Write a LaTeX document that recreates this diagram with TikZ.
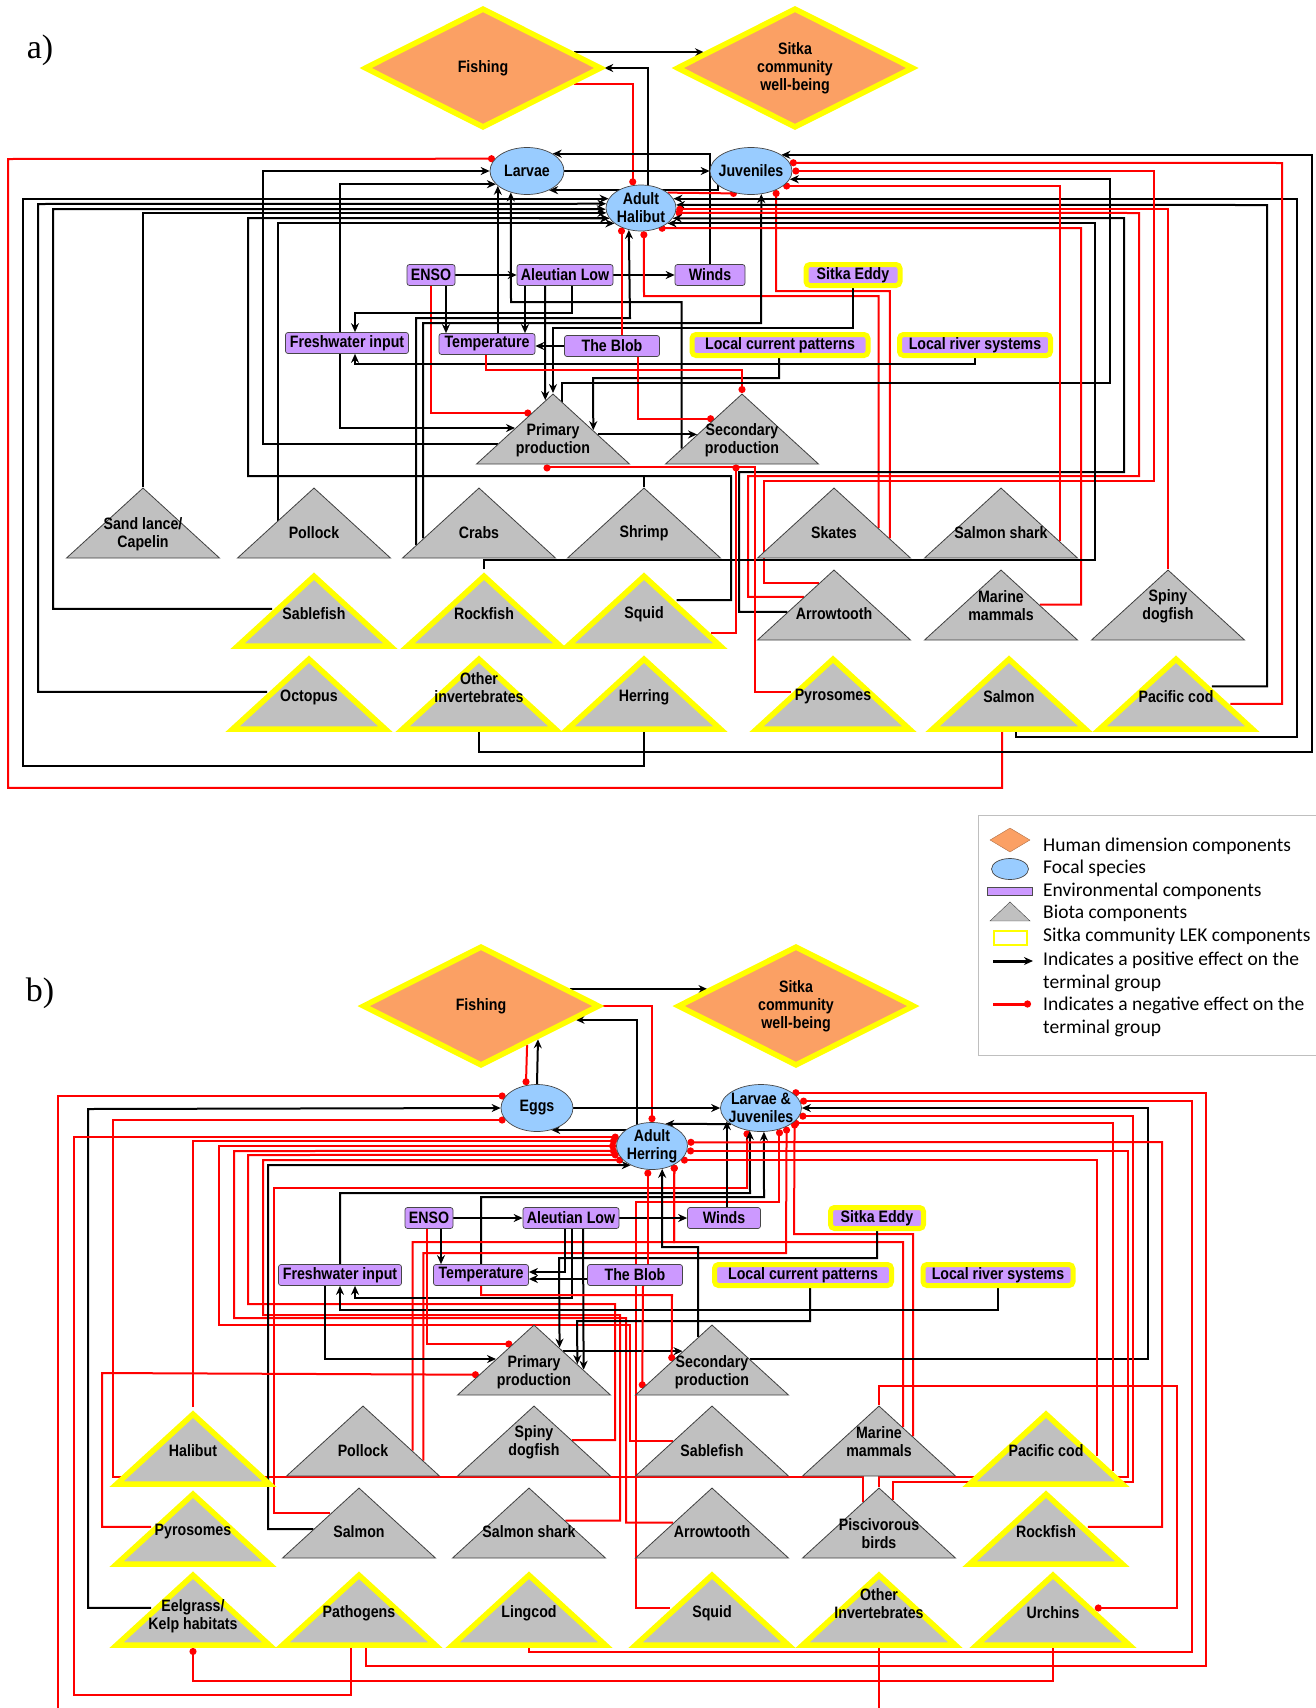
\documentclass[tikz,border=0pt]{standalone}
\usepackage{fontspec}
\newfontfamily\lblfont[FakeStretch=0.86]{Liberation Sans}
\newfontfamily\legfont{Carlito}
\newfontfamily\serfont{Liberation Serif}
\usetikzlibrary{shapes.geometric,arrows.meta,calc}
\definecolor{hum}{RGB}{251,160,100}
\definecolor{lek}{RGB}{255,255,0}
\definecolor{foc}{RGB}{153,204,255}
\definecolor{env}{RGB}{204,153,255}
\definecolor{bio}{RGB}{192,192,192}
\pgfdeclarelayer{bg}
\pgfsetlayers{bg,main}
\tikzset{
  txt/.style={font=\lblfont\bfseries\fontsize{16.5pt}{18pt}\selectfont, align=center, inner sep=0pt},
  legtxt/.style={font=\legfont\fontsize{19.5pt}{22pt}\selectfont, anchor=west, inner sep=0pt},
  human/.style={diamond, aspect=2, minimum width=237pt, minimum height=120pt, inner sep=0pt, fill=hum, draw=lek, line width=5.5pt, txt},
  focal/.style={ellipse, fill=foc, draw=gray!55!black, line width=0.7pt, inner sep=0pt},
  envr/.style={rectangle, rounded corners=2.5pt, fill=env, draw=gray!55!black, line width=0.7pt, minimum height=21pt, inner sep=0pt, txt},
  lekenv/.style={envr, draw=lek, line width=5pt, rounded corners=4pt},
  biota/.style={isosceles triangle, isosceles triangle stretches, shape border rotate=90, minimum width=153pt, minimum height=70pt, inner sep=0pt, anchor=apex, fill=bio, draw=gray!50!black, line width=0.8pt},
  lekbiota/.style={biota, draw=lek, line width=5.5pt},
  poseff/.style={draw=black, line width=2pt, -{Stealth[length=9pt,width=8pt]}},
  negeff/.style={draw=red, line width=2pt, -{Circle[length=7pt]}},
}
\begin{document}
\begin{tikzpicture}[x=1pt, y=-1pt]
\useasboundingbox (0,0) rectangle (1315,1708);

\node[font=\serfont\fontsize{34pt}{34pt}\selectfont] (LA) at (40,50) {a)};
\node[human] (FISH1) at (483,68) {Fishing};
\node[human] (SITKA1) at (795,68) {Sitka\\community\\well-being};
\node[focal, minimum width=74pt, minimum height=47pt] (LARV1) at (527,171) {};
\node[txt] (LARV1t) at (LARV1) {Larvae};
\node[focal, minimum width=82pt, minimum height=47pt] (JUV1) at (751,171) {};
\node[txt] (JUV1t) at (JUV1) {Juveniles};
\node[focal, minimum width=70pt, minimum height=46pt] (AH1) at (641,208) {};
\node[txt] (AH1t) at (AH1) {Adult\\Halibut};

\node[envr, minimum width=48pt] (ENSO1) at (431,275) {ENSO};
\node[envr, minimum width=96pt] (AL1) at (565,275) {Aleutian Low};
\node[envr, minimum width=70pt] (WIND1) at (710,275) {Winds};
\node[lekenv, minimum width=94pt] (EDDY1) at (853,275) {Sitka Eddy};
\node[envr, minimum width=123pt] (FW1) at (347,343) {Freshwater input};
\node[envr, minimum width=96pt] (TEMP1) at (487,344) {Temperature};
\node[envr, minimum width=95pt] (BLOB1) at (612,346) {The Blob};
\node[lekenv, minimum width=176pt] (LCP1) at (780,345) {Local current patterns};
\node[lekenv, minimum width=151pt] (LRS1) at (975,345) {Local river systems};

\node[biota] (PP1) at (553,393) {};
\node[txt] (PP1t) at ($(PP1.apex)+(0,47)$) {Primary\\production};
\node[biota] (SP1) at (742,393) {};
\node[txt] (SP1t) at ($(SP1.apex)+(0,47)$) {Secondary\\production};

\node[biota] (SAND1) at (143,487) {};
\node[txt] (SAND1t) at ($(SAND1.apex)+(0,47)$) {Sand lance/\\Capelin};
\node[biota] (POLL1) at (314,487) {};
\node[txt] (POLL1t) at ($(POLL1.apex)+(0,46)$) {Pollock};
\node[biota] (CRAB1) at (479,487) {};
\node[txt] (CRAB1t) at ($(CRAB1.apex)+(0,46)$) {Crabs};
\node[biota] (SHRM1) at (644,487) {};
\node[txt] (SHRM1t) at ($(SHRM1.apex)+(0,46)$) {Shrimp};
\node[biota] (SKAT1) at (834,487) {};
\node[txt] (SKAT1t) at ($(SKAT1.apex)+(0,46)$) {Skates};
\node[biota] (SSHK1) at (1001,487) {};
\node[txt] (SSHK1t) at ($(SSHK1.apex)+(0,46)$) {Salmon shark};

\node[lekbiota] (SABL1) at (314,569) {};
\node[txt] (SABL1t) at ($(SABL1.apex)+(0,45)$) {Sablefish};
\node[lekbiota] (ROCK1) at (484,569) {};
\node[txt] (ROCK1t) at ($(ROCK1.apex)+(0,45)$) {Rockfish};
\node[lekbiota] (SQID1) at (644,569) {};
\node[txt] (SQID1t) at ($(SQID1.apex)+(0,45)$) {Squid};
\node[biota] (ARRW1) at (834,569) {};
\node[txt] (ARRW1t) at ($(ARRW1.apex)+(0,45)$) {Arrowtooth};
\node[biota] (MM1) at (1001,569) {};
\node[txt] (MM1t) at ($(MM1.apex)+(0,37)$) {Marine\\mammals};
\node[biota] (DOG1) at (1168,569) {};
\node[txt] (DOG1t) at ($(DOG1.apex)+(0,37)$) {Spiny\\dogfish};

\node[lekbiota] (OCTO1) at (309,652) {};
\node[txt] (OCTO1t) at ($(OCTO1.apex)+(0,45)$) {Octopus};
\node[lekbiota] (OI1) at (479,652) {};
\node[txt] (OI1t) at ($(OI1.apex)+(0,36)$) {Other\\invertebrates};
\node[lekbiota] (HERR1) at (644,652) {};
\node[txt] (HERR1t) at ($(HERR1.apex)+(0,45)$) {Herring};
\node[lekbiota] (PYRO1) at (833,652) {};
\node[txt] (PYRO1t) at ($(PYRO1.apex)+(0,45)$) {Pyrosomes};
\node[lekbiota] (SALM1) at (1009,652) {};
\node[txt] (SALM1t) at ($(SALM1.apex)+(0,45)$) {Salmon};
\node[lekbiota] (PCOD1) at (1176,652) {};
\node[txt] (PCOD1t) at ($(PCOD1.apex)+(0,45)$) {Pacific cod};

\begin{pgfonlayer}{bg}
\draw[poseff] ($(FISH1.east)!.25!(FISH1.north)$) -- ($(SITKA1.west)!.25!(SITKA1.north)$);
\draw[poseff] (AH1.73) |- (FISH1.east);
\draw[negeff] ($(FISH1.east)!.25!(FISH1.south)$) -| (AH1.110);
\draw[poseff] (LARV1.east) -- (JUV1.west);
\draw[poseff] (WIND1.north) |- (LARV1.34);
\draw[negeff] ($(SALM1.lower side)+(-7,0)$) -- ++(0,56) -| (8,159) -- (LARV1.159);
\draw[poseff] ($(PP1.apex)!.71!(PP1.left corner)$) -| (263,171) -- (LARV1.west);
\draw[poseff] (FW1.north -| 340,0) |- (LARV1.203);
\draw[poseff] (FW1.south -| 340,0) |- ($(PP1.apex)!.49!(PP1.left corner)$);
\draw[poseff] (TEMP1.north -| LARV1.207) -- (LARV1.207);
\draw[poseff] ($(SP1.apex)!.78!(SP1.left corner)$) |- (511,302) -- (LARV1.233);
\draw[poseff] (ENSO1.east) -- (AL1.west);
\draw[poseff] (ENSO1.south -| 446,0) -- (TEMP1.north -| 446,0);
\draw[negeff] (ENSO1.south -| 431,0) |- ($(PP1.apex)!.28!(PP1.left corner)$);
\draw[poseff] (AL1.south -| 525,0) -- (TEMP1.north -| 525,0);
\draw[poseff] (AL1.south -| 545,0) -- ($(PP1.apex)!.1!(PP1.left corner)$);
\draw[poseff] (AL1.south -| 572,0) |- (355,313) -- (FW1.north -| 355,0);
\draw[poseff] (AL1.east) -- (WIND1.west);
\draw[negeff] ($(SKAT1.apex)!.575!(SKAT1.right corner)$) |- (644,296) -- (AH1.277);
\draw[negeff] ($(SKAT1.apex)!.72!(SKAT1.right corner)$) |- (776,291) -- (JUV1.323);
\draw[poseff] ($(CRAB1.apex)!.81!(CRAB1.left corner)$) |- (630,318) -- (AH1.241);
\draw[poseff] ($(CRAB1.apex)!.72!(CRAB1.left corner)$) |- (761,323) -- (JUV1.294);
\draw[poseff] (EDDY1.south) |- (553,328) -- (PP1.apex);
\draw[poseff] (LCP1.south -| 779,0) |- (593,378) -- ($(PP1.apex)!.52!(PP1.right corner)$);
\draw[poseff] (LRS1.south) |- (355,364) -- (FW1.south -| 355,0);
\draw[poseff] (BLOB1.west) -- (TEMP1.east |- BLOB1.west);
\draw[negeff] (BLOB1.north -| AH1.225) -- (AH1.225);
\draw[negeff] (BLOB1.south -| 638,0) |- ($(SP1.apex)!.36!(SP1.left corner)$);
\draw[negeff] (TEMP1.south -| 486,0) |- (742,370) -- (SP1.apex);
\draw[poseff] ($(PP1.apex)!.58!(PP1.right corner)$) -- ($(SP1.apex)!.58!(SP1.left corner)$);
\draw[poseff] ($(PP1.apex)!.12!(PP1.right corner)$) |- (1110,383) |- (JUV1.348);
\draw[poseff] (OI1.south) |- (1312,752) |- (JUV1.28);
\draw[poseff] (HERR1.south) |- (23,766) |- (AH1.164);
\draw[poseff] ($(SALM1.lower side)+(7,0)$) |- (1297,737) |- (AH1.16);
\draw[poseff] ($(PCOD1.apex)!.43!(PCOD1.right corner)$) -| (1267,205) -- (AH1.5);
\draw[negeff] ($(PCOD1.apex)!.65!(PCOD1.right corner)$) -| (1282,163) -- (JUV1.12);
\draw[negeff] ($(ARRW1.apex)!.2!(ARRW1.left corner)$) -| (764,481) -| (1154,171) -- (JUV1.east);
\draw[negeff] ($(ARRW1.apex)!.39!(ARRW1.left corner)$) -| (748,476) -| (1139,213) -- (AH1.352);
\draw[poseff] ($(ARRW1.apex)!.6!(ARRW1.left corner)$) -| (739,472) -| (1124,218) -- (AH1.342);
\draw[negeff] (MM1.right side) -| (1081,228) -- (AH1.311);
\draw[poseff] (ROCK1.apex) |- (1095,560) |- (AH1.330);
\draw[negeff] (DOG1.apex) |- (AH1.358);
\draw[negeff] ($(SSHK1.apex)!.76!(SSHK1.right corner)$) |- (JUV1.335);
\draw[negeff] (AH1.30) -- (JUV1.238);
\draw[poseff] (JUV1.203) |- (LARV1.319);
\draw[poseff] ($(SQID1.apex)!.39!(SQID1.right corner)$) -| (731,476) -| (248,218) -- (AH1.198);
\draw[poseff] (SHRM1.apex) |- (248,476) |- (AH1.198);
\draw[poseff] ($(POLL1.apex)!.47!(POLL1.left corner)$) |- (AH1.210);
\draw[poseff] (SAND1.apex) |- (AH1.188);
\draw[poseff] (SABL1.left side) -| (53,209) -- (AH1.182);
\draw[poseff] (OCTO1.left side) -| (38,204) -- (AH1.173);
\draw[negeff] (PYRO1.left side) -| (755,467) -| ($(PP1.lower side)+(-6,0)$);
\draw[negeff] ($(SQID1.apex)!.8!(SQID1.right corner)$) -| ($(SP1.lower side)+(-6,0)$);
\end{pgfonlayer}

\node[draw=gray!50, line width=0.8pt, minimum width=345pt, minimum height=240pt, anchor=north west] (LEG) at (978,815) {};
\node[diamond, aspect=1.7, minimum width=40pt, minimum height=24pt, inner sep=0pt, fill=hum, draw=hum!70!black, line width=0.4pt] (LHUM) at (1010,840) {};
\node[focal, minimum width=37pt, minimum height=21pt] (LFOC) at (1010,869) {};
\node[rectangle, fill=env, draw=gray!60!black, line width=0.4pt, minimum width=45pt, minimum height=8pt, inner sep=0pt] (LENV) at (1010,891) {};
\node[isosceles triangle, isosceles triangle stretches, shape border rotate=90, minimum width=40pt, minimum height=19pt, inner sep=0pt, fill=bio, draw=gray!50!black, line width=0.4pt] (LBIO) at (1010,913) {};
\node[rectangle, draw=lek, line width=2pt, minimum width=33pt, minimum height=14pt, inner sep=0pt] (LLEK) at (1010,938) {};
\coordinate (LP0) at (993,961);
\coordinate (LP1) at (1033,961);
\draw[poseff, line width=3pt] (LP0) -- (LP1);
\coordinate (LN0) at (993,1004);
\coordinate (LN1) at (1031,1004);
\draw[negeff, line width=3pt] (LN0) -- (LN1);
\node[legtxt] (LT1) at (1043,846) {Human dimension components};
\node[legtxt] (LT2) at (1043,868) {Focal species};
\node[legtxt] (LT3) at (1043,891) {Environmental components};
\node[legtxt] (LT4) at (1043,913) {Biota components};
\node[legtxt] (LT5) at (1043,936) {Sitka community LEK components};
\node[legtxt] (LT6) at (1043,960) {Indicates a positive effect on the};
\node[legtxt] (LT7) at (1043,983) {terminal group};
\node[legtxt] (LT8) at (1043,1005) {Indicates a negative effect on the};
\node[legtxt] (LT9) at (1043,1028) {terminal group};

\node[font=\serfont\fontsize{34pt}{34pt}\selectfont] (LB) at (40,993) {b)};
\node[human] (FISH2) at (481,1006) {Fishing};
\node[human] (SITKA2) at (796,1006) {Sitka\\community\\well-being};
\node[focal, minimum width=72pt, minimum height=47pt] (EGGS2) at (537,1108) {};
\node[txt] (EGGS2t) at (EGGS2) {Eggs};
\node[focal, minimum width=81pt, minimum height=47pt] (LJ2) at (761,1108) {};
\node[txt] (LJ2t) at (LJ2) {Larvae \&\\Juveniles};
\node[focal, minimum width=71pt, minimum height=47pt] (AH2) at (652,1146) {};
\node[txt] (AH2t) at (AH2) {Adult\\Herring};

\node[envr, minimum width=48pt] (ENSO2) at (429,1218) {ENSO};
\node[envr, minimum width=96pt] (AL2) at (571,1218) {Aleutian Low};
\node[envr, minimum width=73pt] (WIND2) at (724,1218) {Winds};
\node[lekenv, minimum width=93pt] (EDDY2) at (877,1218) {Sitka Eddy};
\node[envr, minimum width=123pt] (FW2) at (340,1275) {Freshwater input};
\node[envr, minimum width=95pt] (TEMP2) at (481,1275) {Temperature};
\node[envr, minimum width=95pt] (BLOB2) at (635,1275) {The Blob};
\node[lekenv, minimum width=177pt] (LCP2) at (803,1275) {Local current patterns};
\node[lekenv, minimum width=150pt] (LRS2) at (998,1275) {Local river systems};

\node[biota] (PP2) at (534,1324) {};
\node[txt] (PP2t) at ($(PP2.apex)+(0,48)$) {Primary\\production};
\node[biota] (SP2) at (712,1324) {};
\node[txt] (SP2t) at ($(SP2.apex)+(0,48)$) {Secondary\\production};

\node[lekbiota] (HALI2) at (193,1407) {};
\node[txt] (HALI2t) at ($(HALI2.apex)+(0,44)$) {Halibut};
\node[biota] (POLL2) at (363,1405) {};
\node[txt] (POLL2t) at ($(POLL2.apex)+(0,46)$) {Pollock};
\node[biota] (DOG2) at (534,1405) {};
\node[txt] (DOG2t) at ($(DOG2.apex)+(0,37)$) {Spiny\\dogfish};
\node[biota] (SABL2) at (712,1405) {};
\node[txt] (SABL2t) at ($(SABL2.apex)+(0,46)$) {Sablefish};
\node[biota] (MM2) at (879,1405) {};
\node[txt] (MM2t) at ($(MM2.apex)+(0,37)$) {Marine\\mammals};
\node[lekbiota] (PCOD2) at (1046,1407) {};
\node[txt] (PCOD2t) at ($(PCOD2.apex)+(0,44)$) {Pacific cod};

\node[lekbiota] (PYRO2) at (193,1487) {};
\node[txt] (PYRO2t) at ($(PYRO2.apex)+(0,45)$) {Pyrosomes};
\node[biota] (SALM2) at (359,1487) {};
\node[txt] (SALM2t) at ($(SALM2.apex)+(0,45)$) {Salmon};
\node[biota] (SSHK2) at (529,1487) {};
\node[txt] (SSHK2t) at ($(SSHK2.apex)+(0,45)$) {Salmon shark};
\node[biota] (ARRW2) at (712,1487) {};
\node[txt] (ARRW2t) at ($(ARRW2.apex)+(0,45)$) {Arrowtooth};
\node[biota] (PISC2) at (879,1487) {};
\node[txt] (PISC2t) at ($(PISC2.apex)+(0,47)$) {Piscivorous\\birds};
\node[lekbiota] (ROCK2) at (1046,1487) {};
\node[txt] (ROCK2t) at ($(ROCK2.apex)+(0,45)$) {Rockfish};

\node[lekbiota] (EEL2) at (193,1568) {};
\node[txt] (EEL2t) at ($(EEL2.apex)+(0,48)$) {Eelgrass/\\Kelp habitats};
\node[lekbiota] (PATH2) at (359,1568) {};
\node[txt] (PATH2t) at ($(PATH2.apex)+(0,45)$) {Pathogens};
\node[lekbiota] (LING2) at (529,1568) {};
\node[txt] (LING2t) at ($(LING2.apex)+(0,45)$) {Lingcod};
\node[lekbiota] (SQID2) at (712,1568) {};
\node[txt] (SQID2t) at ($(SQID2.apex)+(0,45)$) {Squid};
\node[lekbiota] (OI2) at (879,1568) {};
\node[txt] (OI2t) at ($(OI2.apex)+(0,36)$) {Other\\Invertebrates};
\node[lekbiota] (URCH2) at (1053,1568) {};
\node[txt] (URCH2t) at ($(URCH2.apex)+(0,45)$) {Urchins};

\coordinate (OFFA2) at (58,1708);
\coordinate (OFFB2) at (879,1708);

\begin{pgfonlayer}{bg}
\draw[poseff] ($(FISH2.east)!.27!(FISH2.north)$) -- ($(SITKA2.west)!.27!(SITKA2.north)$);
\draw[negeff] (FISH2.east) -| (AH2.north);
\draw[poseff] (AH2.125) |- ($(FISH2.east)!.22!(FISH2.south)$);
\draw[poseff] (AH2.125) |- (EGGS2.303);
\draw[negeff] ($(FISH2.south)!.38!(FISH2.east)$) -- (EGGS2.116);
\draw[poseff] (EGGS2.north) -- ($(FISH2.south)!.47!(FISH2.east)$);
\draw[poseff] (EGGS2.east) -- (LJ2.west);
\draw[negeff] (OFFA2) |- (EGGS2.159);
\draw[poseff] (EEL2.left side) -| (88,1109) -- (EGGS2.west);
\draw[negeff] ($(PISC2.apex)!.21!(PISC2.left corner)$) |- (113,1477) |- (EGGS2.201);
\draw[negeff] (HALI2.apex) |- (AH2.172);
\draw[negeff] ($(PATH2.lower side)+(-8,0)$) |- (74,1695) |- (AH2.165);
\draw[negeff] (SABL2.left side) -| (630,1325) -| (219,1146) -- (AH2.west);
\draw[negeff] (ARRW2.left side) -| (626,1318) -| (234,1151) -- (AH2.188);
\draw[negeff] ($(DOG2.apex)!.49!(DOG2.right corner)$) -| (615,1304) -| (248,1155) -- (AH2.195);
\draw[negeff] ($(SSHK2.apex)!.47!(SSHK2.right corner)$) -| (620,1315) -| (263,1160) -- (AH2.206);
\draw[poseff] ($(SALM2.apex)!.59!(SALM2.left corner)$) -| (268,1165) -- (AH2.222);
\draw[negeff] ($(SALM2.apex)!.37!(SALM2.left corner)$) -| (274,1188) -| (LJ2.238);
\draw[poseff] (FW2.north) |- (750,1193) -- (LJ2.244);
\draw[poseff] (TEMP2.north) |- (764,1197) -- (LJ2.277);
\draw[negeff] ($(POLL2.apex)!.64!(POLL2.right corner)$) |- (674,1242) -- (AH2.320);
\draw[negeff] ($(POLL2.apex)!.78!(POLL2.right corner)$) |- (786,1253) -- (LJ2.324);
\draw[negeff] ($(MM2.apex)!.31!(MM2.right corner)$) |- (674,1242) -- (AH2.320);
\draw[negeff] ($(MM2.apex)!.44!(MM2.right corner)$) |- (794,1234) -- (LJ2.338);
\draw[negeff] (SQID2.left side) -| (636,1202) -| (LJ2.311);
\draw[poseff] (LRS2.south) |- (340,1310) -- (FW2.south);
\draw[poseff] (AL2.south -| 572,0) |- (355,1298) -- (FW2.south -| 355,0);
\draw[poseff] (FW2.south -| 325,0) |- ($(PP2.apex)!.49!(PP2.left corner)$);
\draw[poseff] (ENSO2.east) -- (AL2.west);
\draw[poseff] (ENSO2.south -| 441,0) -- (TEMP2.north -| 441,0);
\draw[negeff] (ENSO2.south -| 427,0) |- ($(PP2.apex)!.28!(PP2.left corner)$);
\draw[poseff] (AL2.south -| 565,0) |- ($(TEMP2.east)+(0,-3)$);
\draw[poseff] ($(BLOB2.west)+(0,4)$) -- ($(TEMP2.east)+(0,4)$);
\draw[poseff] (AL2.south -| 583,0) -- ($(PP2.apex)!.64!(PP2.right corner)$);
\draw[poseff] (EDDY2.south) |- (559,1258) -- ($(PP2.apex)!.33!(PP2.right corner)$);
\draw[poseff] (LCP2.south -| 810,0) |- (577,1321) -- ($(PP2.apex)!.56!(PP2.right corner)$);
\draw[poseff] (AL2.east) -- (WIND2.west);
\draw[poseff] (WIND2.north -| LJ2.201) -- (LJ2.201);
\draw[poseff] (LJ2.208) -- (AH2.59);
\draw[poseff] ($(SP2.apex)!.18!(SP2.left corner)$) |- (662,1247) -- (AH2.294);
\draw[poseff] ($(PP2.apex)!.38!(PP2.right corner)$) -- ($(SP2.apex)!.38!(SP2.left corner)$);
\draw[poseff] ($(SP2.apex)!.49!(SP2.right corner)$) -| (1148,1108) -- (LJ2.east);
\draw[negeff] (PYRO2.left side) -| (102,1373) -- ($(PP2.apex)!.71!(PP2.left corner)$);
\draw[negeff] (TEMP2.south) |- (672,1295) -- ($(SP2.apex)!.52!(SP2.left corner)$);
\draw[negeff] (BLOB2.south -| 643,0) -- ($(SP2.apex)!.9!(SP2.left corner)$);
\draw[negeff] (BLOB2.north -| AH2.260) -- (AH2.260);
\draw[negeff] (ROCK2.right side) -| (1162,1142) -- (AH2.6);
\draw[negeff] (PISC2.apex) |- (1128,1477) |- (AH2.352);
\draw[negeff] ($(PCOD2.apex)!.61!(PCOD2.right corner)$) |- (AH2.334);
\draw[negeff] ($(PCOD2.apex)!.8!(PCOD2.right corner)$) |- (LJ2.334);
\draw[negeff] ($(PISC2.apex)!.18!(PISC2.right corner)$) |- (1133,1482) |- (LJ2.348);
\draw[negeff] (LING2.south) |- (1192,1652) |- (LJ2.10);
\draw[negeff] ($(PATH2.lower side)+(7,0)$) |- (1206,1666) |- (LJ2.26);
\draw[negeff] (URCH2.south) |- (193,1681) -- (EEL2.south);
\draw[negeff] (MM2.apex) |- (1177,1386) |- (URCH2.right side);
\draw[red, line width=2pt] (OI2.south) -- (OFFB2);
\end{pgfonlayer}
\end{tikzpicture}
\end{document}
